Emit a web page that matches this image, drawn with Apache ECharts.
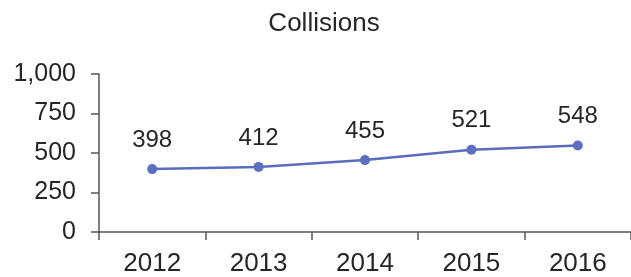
<!DOCTYPE html>
<html>
<head>
<meta charset="utf-8">
<script src="https://cdn.jsdelivr.net/npm/echarts@6/dist/echarts.min.js"></script>
<style>
  html, body { margin: 0; padding: 0; background: #fff; }
  #chart { width: 631px; height: 277px; }
</style>
</head>
<body>
<div id="chart"></div>
<script>
const years = ['2012', '2013', '2014', '2015', '2016']
const collisions = [398, 412, 455, 521, 548]
const yTicks = [0, 250, 500, 750, 1000]

const font = 'Liberation Sans, Arial, sans-serif'
const axisColor = '#555'
const textColor = '#262626'

const chart = echarts.init(document.getElementById('chart'))
chart.setOption({
  backgroundColor: '#ffffff',
  animation: false,
  title: {
    text: 'Collisions',
    left: 319,
    top: 6,
    textAlign: 'center',
    textStyle: { fontFamily: font, fontSize: 26, fontWeight: 'normal', color: textColor },
  },
  grid: { left: 99, right: -10, top: 74, bottom: 45, containLabel: false },
  xAxis: {
    type: 'category',
    data: years,
    boundaryGap: true,
    axisLine: { lineStyle: { color: axisColor, width: 1.5 } },
    axisTick: { show: true, length: 8, alignWithLabel: false, lineStyle: { color: axisColor, width: 1.5 } },
    axisLabel: { color: textColor, fontFamily: font, fontSize: 26, margin: 19 },
    splitLine: { show: false },
  },
  yAxis: {
    type: 'value',
    min: yTicks[0],
    max: yTicks[yTicks.length - 1],
    interval: 250,
    axisLine: { show: true, lineStyle: { color: axisColor, width: 1.5 } },
    axisTick: { show: true, length: 8, lineStyle: { color: axisColor, width: 1.5 } },
    axisLabel: {
      color: textColor,
      fontFamily: font,
      fontSize: 25,
      margin: 23,
      formatter: (v) => v.toLocaleString('en-US'),
    },
    splitLine: { show: false },
  },
  series: [
    {
      name: 'Collisions',
      type: 'line',
      data: collisions,
      symbol: 'circle',
      symbolSize: 10,
      lineStyle: { color: '#5a6cbb', width: 2.5 },
      itemStyle: { color: '#5b6fc4' },
      label: {
        show: true,
        position: 'top',
        distance: 12,
        color: textColor,
        fontFamily: font,
        fontSize: 24,
      },
    },
  ],
})
</script>
</body>
</html>
